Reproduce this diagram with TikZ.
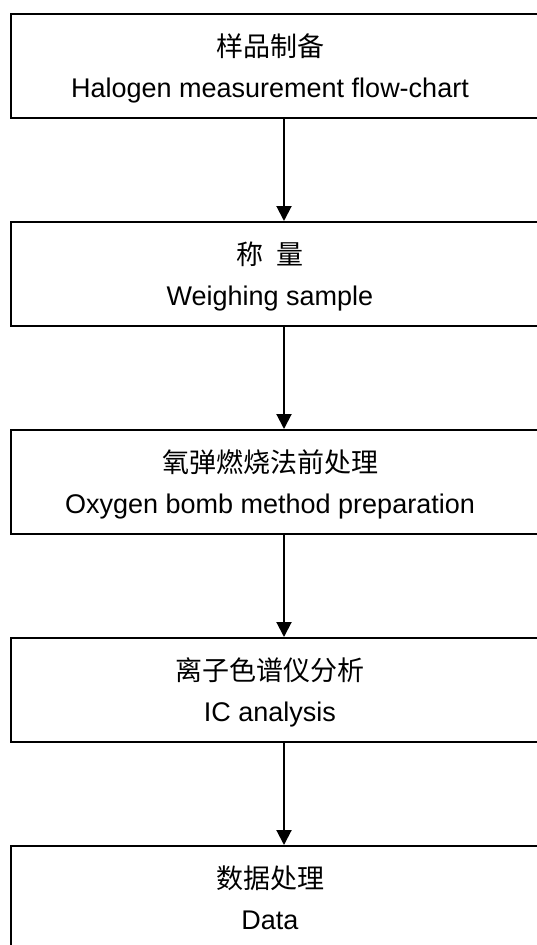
\documentclass[tikz,border=0pt]{standalone}
\usepackage{fontspec}
\setmainfont{Liberation Sans}
\newfontfamily\cjk{Noto Sans CJK SC}
\usetikzlibrary{arrows.meta}
\begin{document}
\begin{tikzpicture}[x=1pt,y=-1pt,
  box/.style={draw, line width=2pt, rectangle, minimum width=546pt, minimum height=104pt, inner sep=0pt, anchor=north west},
  zh/.style={font=\cjk\fontsize{27}{27}\selectfont, anchor=base, inner sep=0pt},
  en/.style={font=\fontsize{27}{27}\selectfont, anchor=base, inner sep=0pt},
  flow/.style={line width=2pt, -{Triangle[length=15pt,width=15pt]}}]
\useasboundingbox (0,0) rectangle (537,945);
\clip (0,0) rectangle (537,945);
\fill[white] (0,0) rectangle (537,945);
\node[box] (b1) at (10,13) {};
\node[box] (b2) at (10,221) {};
\node[box] (b3) at (10,429) {};
\node[box] (b4) at (10,637) {};
\node[box] (b5) at (10,845) {};
\node[zh] (z1) at (270,56) {样品制备};
\node[en] (e1) at (270,97) {Halogen measurement flow-chart};
\node[zh] (z2) at (270,264) {称\hspace{0.5em}量};
\node[en] (e2) at (270,305) {Weighing sample};
\node[zh] (z3) at (270,472) {氧弹燃烧法前处理};
\node[en] (e3) at (270,513) {Oxygen bomb method preparation};
\node[zh] (z4) at (270,680) {离子色谱仪分析};
\node[en] (e4) at (270,721) {IC analysis};
\node[zh] (z5) at (270,888) {数据处理};
\node[en] (e5) at (270,929) {Data};
\draw[flow] (b1.south) -- (b2.north);
\draw[flow] (b2.south) -- (b3.north);
\draw[flow] (b3.south) -- (b4.north);
\draw[flow] (b4.south) -- (b5.north);
\end{tikzpicture}
\end{document}
